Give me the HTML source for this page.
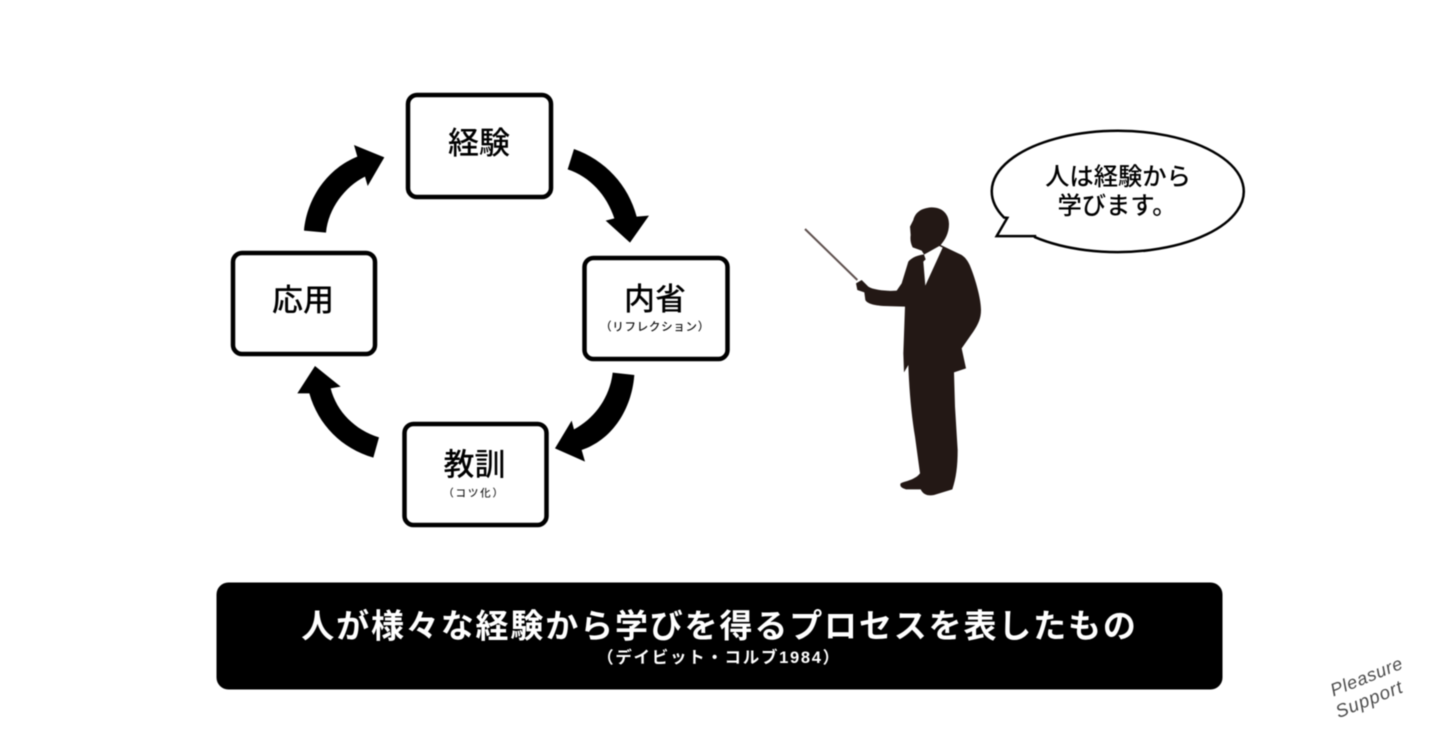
<!DOCTYPE html>
<html lang="ja">
<head>
<meta charset="utf-8">
<style>
html,body{margin:0;padding:0;background:#fff;width:1440px;height:745px;overflow:hidden}
svg{display:block;filter:blur(0.6px)}
text{font-family:"Liberation Sans","Noto Sans CJK JP",sans-serif;text-anchor:middle}
</style>
</head>
<body>
<svg width="1440" height="745" viewBox="0 0 1440 745" xmlns="http://www.w3.org/2000/svg">
<rect width="1440" height="745" fill="#fff"/>

<!-- boxes -->
<g fill="#fff" stroke="#000" stroke-width="4.5">
<rect x="408" y="95" width="143" height="102" rx="9"/>
<rect x="584.500" y="258" width="143" height="101" rx="9"/>
<rect x="404.500" y="424" width="142" height="101" rx="9"/>
<rect x="233" y="253" width="142" height="101" rx="9"/>
</g>

<!-- arrows -->
<g transform="translate(220,80) scale(0.33333)" fill="#000">
<path d="M1062,207 C1155,240 1225,315 1250,410 L1287,407 L1230,488 L1157,422 L1183,415 C1160,345 1110,290 1043,268 Z"/>
<path d="M1178,878 L1243,885 C1235,990 1175,1080 1085,1110 L1095,1145 L1005,1105 L1055,1022 L1062,1048 C1125,1015 1170,950 1178,878 Z"/>
<path d="M477,1072 L460,1133 C365,1105 295,1035 268,940 L232,940 L285,858 L362,920 L332,925 C350,995 405,1050 477,1072 Z"/>
<path d="M252,452 L318,458 C325,385 375,320 435,290 L443,318 L493,232 L402,195 L412,230 C325,265 262,350 252,452 Z"/>
</g>

<!-- box labels -->
<text x="479" y="154" font-size="31" font-weight="500" fill="#000">経験</text>
<text x="655" y="310" font-size="31" font-weight="500" fill="#000">内省</text>
<text x="474.500" y="475.500" font-size="31" font-weight="500" fill="#000">教訓</text>
<text x="303" y="311" font-size="31" font-weight="500" fill="#000">応用</text>
<text x="655" y="330.500" font-size="11.500" font-weight="500" fill="#111" letter-spacing="0.700">（リフレクション）</text>
<text x="474" y="496.500" font-size="10.500" font-weight="500" fill="#222" letter-spacing="1.800">（コツ化）</text>

<!-- speech bubble -->
<g transform="translate(780,120.500) scale(0.33333)">
<path d="M682,292 L672,291 A378,182 0 1 1 765,350 L765,347 L650,347 Z" fill="#fff" stroke="#000" stroke-width="7.500" stroke-linejoin="miter"/>
</g>
<text x="1118" y="185" font-size="24.300" font-weight="500" fill="#000">人は経験から</text>
<text x="1117" y="214" font-size="24.300" font-weight="500" fill="#000">学びます。</text>

<!-- presenter silhouette -->
<g transform="translate(780,120) scale(0.33333)">
<line x1="75" y1="327" x2="232" y2="480" stroke="#5e504e" stroke-width="6"/>
<path fill="#231815" d="M400,300 C405,280 420,264 455,262 C490,262 507,285 507,312 C507,340 495,360 482,375 L545,405 C560,415 568,430 575,450 C590,490 603,540 603,570 C603,595 595,612 580,635 L545,685 L558,745 L522,757 L525,860 L533,990 C533,1040 528,1075 517,1108 L462,1125 C445,1128 430,1125 422,1108 L378,1108 C365,1105 358,1098 362,1090 C375,1083 405,1080 420,1060 L405,950 C395,890 388,820 385,735 L372,757 L370,700 L375,560 L310,558 C285,556 262,552 256,540 L253,517 L232,510 L228,490 L245,480 L265,500 C280,510 320,514 350,512 L365,490 L385,425 C395,412 415,405 432,403 L425,392 L398,382 C392,370 390,358 392,345 L390,320 Z"/>
<path fill="#fff" d="M432,404 L478,378 L488,383 L436,497 L430,425 L437,418 Z"/>
</g>

<!-- banner -->
<rect x="216.500" y="582.500" width="1006" height="107" rx="12" fill="#000"/>
<text x="719.500" y="637.500" font-size="33" font-weight="700" fill="#fff" letter-spacing="1.850">人が様々な経験から学びを得るプロセスを表したもの</text>
<text x="719" y="663" font-size="16.500" font-weight="700" fill="#fff" letter-spacing="1.700">（デイビット・コルブ1984）</text>

<!-- logo -->
<g transform="translate(1368,688) rotate(-22)" fill="#4a4a4a">
<text x="3" y="-5" font-size="18" font-style="italic" letter-spacing="0.700">Pleasure</text>
<text x="-3" y="17" font-size="18.500" font-style="italic" letter-spacing="0.900">Support</text>
</g>
</svg>
</body>
</html>
